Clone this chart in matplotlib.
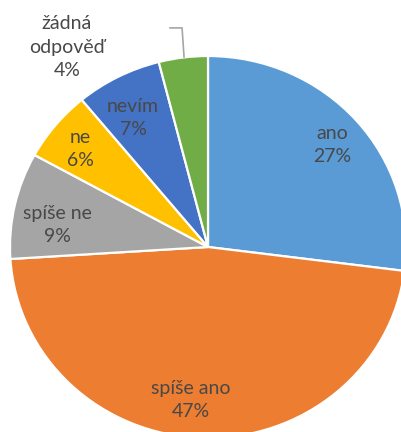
import matplotlib
matplotlib.use("Agg")
import matplotlib.pyplot as plt

categories = ["ano", "spíše ano", "spíše ne", "ne", "nevím", "žádná\nodpověď"]
values = [27, 47, 9, 6, 7, 4]
colors = ["#5B9BD5", "#ED7D31", "#A5A5A5", "#FFC000", "#4472C4", "#70AD47"]
# label anchor positions (data coords of the pie axes)
label_pos = [(0.626, 0.534), (-0.086, -0.801), (-0.758, 0.115),
             (-0.646, 0.513), (-0.379, 0.675), (-0.712, 1.047)]

W, H = 401, 432
fig = plt.figure(figsize=(W / 100, H / 100), dpi=100)
cx, cy, rx, ry = 208, 247, 198, 191
ax = fig.add_axes([(cx - rx) / W, (H - cy - ry) / H, 2 * rx / W, 2 * ry / H])
ax.pie(values, startangle=90, counterclock=False, colors=colors,
       radius=1.0, center=(0, 0),
       wedgeprops=dict(edgecolor="white", linewidth=1.6))
ax.set_aspect("auto")
ax.set_xlim(-1, 1)
ax.set_ylim(-1, 1)
ax.axis("off")

for cat, v, (x, y) in zip(categories, values, label_pos):
    ax.text(x, y, f"{cat}\n{v}%", ha="center", va="center", fontsize=14,
            family="Lato", color="#484848", linespacing=1.45, clip_on=False)

# leader line for the small slice
ax.plot([-0.192, -0.131, -0.121], [1.147, 1.147, 0.995], color="#A6A6A6",
        lw=1.2, clip_on=False)

fig.savefig("out.png", dpi=100)
